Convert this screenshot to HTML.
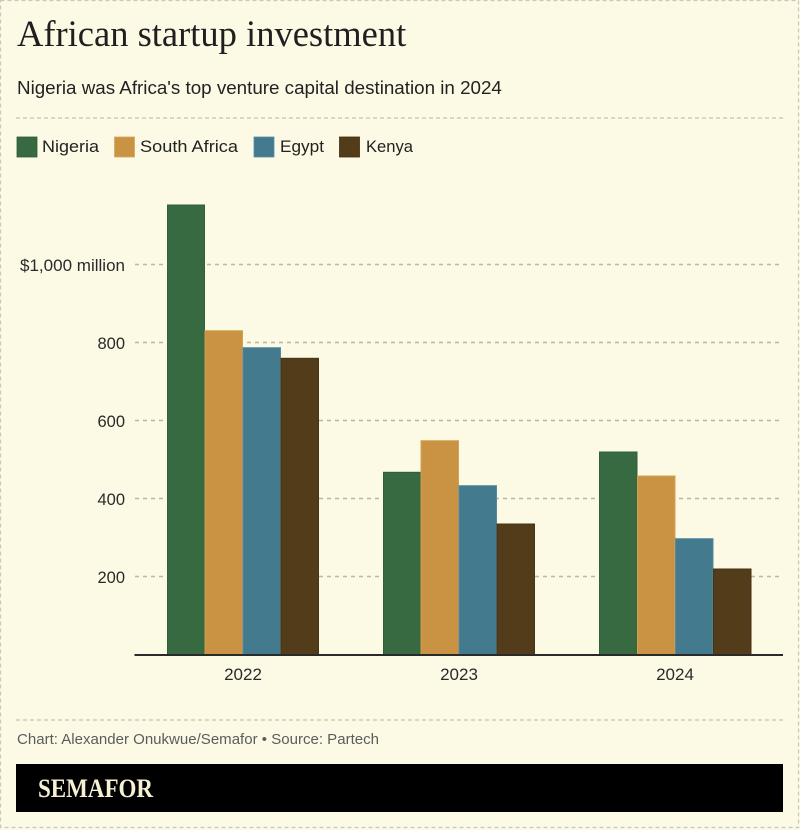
<!DOCTYPE html>
<html>
<head>
<meta charset="utf-8">
<style>
  html,body{margin:0;padding:0;background:#fcf9e5;}
  body{width:800px;height:830px;overflow:hidden;}
  svg{display:block;}
  .sans{font-family:"Liberation Sans",sans-serif;}
  .serif{font-family:"Liberation Serif",serif;}
</style>
</head>
<body>
<svg width="800" height="830" viewBox="0 0 800 830" xmlns="http://www.w3.org/2000/svg">
  <rect x="0" y="0" width="800" height="830" fill="#fcf9e5"/>
  <!-- page border -->
  <rect x="0.5" y="0.5" width="798" height="827" fill="none" stroke="#c9c7bb" stroke-width="1.2" stroke-dasharray="4 3"/>

  <!-- title -->
  <text x="17" y="46" class="serif" font-size="36.5" fill="#1f1f1f">African startup investment</text>
  <!-- subtitle -->
  <text x="17" y="94" class="sans" font-size="18.8" fill="#222">Nigeria was Africa's top venture capital destination in 2024</text>

  <!-- separator -->
  <line x1="16" y1="118" x2="783" y2="118" stroke="#c6c3b2" stroke-width="1.2" stroke-dasharray="4 3"/>

  <!-- legend -->
  <rect x="17" y="137" width="20" height="20" fill="#376a40" stroke="#2f5c37" stroke-width="0.8"/>
  <text x="42" y="152" class="sans" font-size="17" fill="#222" textLength="57" lengthAdjust="spacingAndGlyphs">Nigeria</text>
  <rect x="114.5" y="137" width="20" height="20" fill="#c99343" stroke="#d6a860" stroke-width="0.8"/>
  <text x="140" y="152" class="sans" font-size="17" fill="#222" textLength="98" lengthAdjust="spacingAndGlyphs">South Africa</text>
  <rect x="254" y="137" width="20" height="20" fill="#437a8e" stroke="#5a8da0" stroke-width="0.8"/>
  <text x="280" y="152" class="sans" font-size="17" fill="#222" textLength="44" lengthAdjust="spacingAndGlyphs">Egypt</text>
  <rect x="339.5" y="137" width="20" height="20" fill="#523c19" stroke="#3f2e12" stroke-width="0.8"/>
  <text x="366" y="152" class="sans" font-size="17" fill="#222" textLength="47" lengthAdjust="spacingAndGlyphs">Kenya</text>

  <!-- gridlines -->
  <g stroke="#b9b6a5" stroke-width="1.5" stroke-dasharray="4 4">
    <line x1="135" y1="264.5" x2="783" y2="264.5"/>
    <line x1="135" y1="342.5" x2="783" y2="342.5"/>
    <line x1="135" y1="420.5" x2="783" y2="420.5"/>
    <line x1="135" y1="498.5" x2="783" y2="498.5"/>
    <line x1="135" y1="576.5" x2="783" y2="576.5"/>
  </g>

  <!-- y labels -->
  <g class="sans" font-size="16.5" fill="#2a2a2a" text-anchor="end">
    <text x="125" y="271" textLength="105" lengthAdjust="spacingAndGlyphs">$1,000 million</text>
    <text x="125" y="349">800</text>
    <text x="125" y="427">600</text>
    <text x="125" y="505">400</text>
    <text x="125" y="583">200</text>
  </g>

  <!-- bars -->
  <g stroke-width="1">
    <!-- 2022 -->
    <rect x="167.5" y="205" width="37" height="449.5" fill="#376a40" stroke="#2f6038"/>
    <rect x="205" y="330.7" width="37.5" height="323.8" fill="#c99343" stroke="#d3a255"/>
    <rect x="243" y="347.7" width="37.5" height="306.8" fill="#437a8e" stroke="#5388a0"/>
    <rect x="281" y="358.3" width="37.5" height="296.2" fill="#523c19" stroke="#473415"/>
    <!-- 2023 -->
    <rect x="383.5" y="472.3" width="37" height="182.2" fill="#376a40" stroke="#2f6038"/>
    <rect x="421" y="440.7" width="37.5" height="213.8" fill="#c99343" stroke="#d3a255"/>
    <rect x="459" y="485.7" width="37.5" height="168.8" fill="#437a8e" stroke="#5388a0"/>
    <rect x="497" y="524" width="37.5" height="130.5" fill="#523c19" stroke="#473415"/>
    <!-- 2024 -->
    <rect x="599.5" y="452" width="37.5" height="202.5" fill="#376a40" stroke="#2f6038"/>
    <rect x="637.5" y="476" width="37.5" height="178.5" fill="#c99343" stroke="#d3a255"/>
    <rect x="675.5" y="538.7" width="37.5" height="115.8" fill="#437a8e" stroke="#5388a0"/>
    <rect x="713.5" y="569" width="37.5" height="85.5" fill="#523c19" stroke="#473415"/>
  </g>

  <!-- axis -->
  <line x1="134.5" y1="655" x2="783" y2="655" stroke="#2a2a2a" stroke-width="2"/>

  <!-- x labels -->
  <g class="sans" font-size="17" fill="#2a2a2a" text-anchor="middle">
    <text x="243" y="680">2022</text>
    <text x="459" y="680">2023</text>
    <text x="675" y="680">2024</text>
  </g>

  <!-- footer separator -->
  <line x1="16" y1="720" x2="783" y2="720" stroke="#c6c3b2" stroke-width="1.2" stroke-dasharray="4 3"/>
  <text x="17" y="744" class="sans" font-size="14.8" fill="#5c5c5c" textLength="362" lengthAdjust="spacingAndGlyphs">Chart: Alexander Onukwue/Semafor • Source: Partech</text>

  <!-- logo bar -->
  <rect x="16" y="764" width="767" height="48" fill="#000"/>
  <text x="38" y="797" class="serif" font-size="26" font-weight="bold" fill="#f7f0d2" textLength="115" lengthAdjust="spacingAndGlyphs">SEMAFOR</text>
</svg>
</body>
</html>
